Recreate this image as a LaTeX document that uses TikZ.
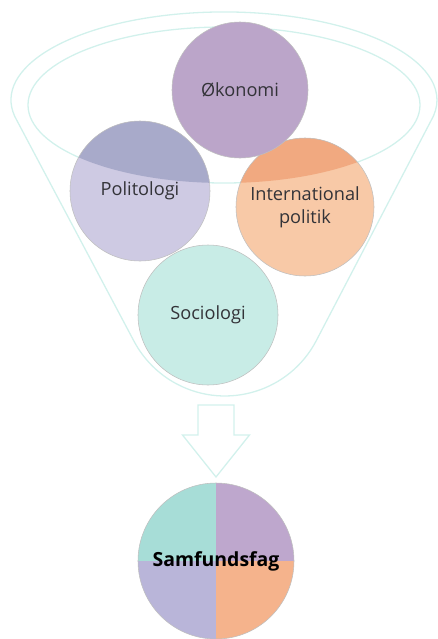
\documentclass[tikz,border=0pt]{standalone}
\usepackage{fontspec}
\setmainfont{Open Sans}

\newlength{\du}
\setlength{\du}{0.55pt}

\definecolor{fagtekst}{rgb}{0.200000, 0.200000, 0.220000}
\definecolor{oekfarve}{rgb}{0.733333, 0.647059, 0.788235}
\definecolor{polfarve}{rgb}{0.807843, 0.792157, 0.890196}
\definecolor{polmoerk}{rgb}{0.658824, 0.666667, 0.792157}
\definecolor{intfarve}{rgb}{0.972549, 0.788235, 0.654902}
\definecolor{intmoerk}{rgb}{0.945098, 0.662745, 0.501961}
\definecolor{socfarve}{rgb}{0.784314, 0.925490, 0.901961}
\definecolor{samfturkis}{rgb}{0.654902, 0.866667, 0.843137}
\definecolor{samflilla}{rgb}{0.745098, 0.654902, 0.803922}
\definecolor{samfblaa}{rgb}{0.725490, 0.709804, 0.850980}
\definecolor{samforange}{rgb}{0.960784, 0.701961, 0.549020}

\tikzset{
  fag/.style={circle, inner sep=0pt, minimum size=#1, align=center,
    text=fagtekst, font=\fontsize{10}{12.6}\selectfont,
    draw=black!25, line width=0.3pt},
  indretint/.style={path picture={
    \fill[#1] (indre) ellipse [x radius=196\du, y radius=78\du];}},
}

\begin{document}
\begin{tikzpicture}
\pgftransformxscale{1.000000}
\pgftransformyscale{-1.000000}
\useasboundingbox (0.000000\du,0.000000\du) rectangle (438.000000\du,639.000000\du);
\coordinate (indre) at (224.000000\du,105.000000\du);
% tragten
\definecolor{dialinecolor}{rgb}{0.823529, 0.945098, 0.925490}
\pgfsetstrokecolor{dialinecolor}
\pgfsetlinewidth{1.300000\du}
\pgfsetdash{}{0pt}
\draw (16.900000\du,120.500000\du) arc[start angle=166.5, end angle=373.5, x radius=213.000000\du, y radius=88.000000\du]
  --(316.100000\du,341.000000\du) arc[start angle=27.8, end angle=152.2, radius=103.000000\du]--cycle;
\draw (indre) ellipse [x radius=196.000000\du, y radius=78.000000\du];
% pilen
\pgfsetmiterjoin
\draw (198.000000\du,405.000000\du)--(234.000000\du,405.000000\du)--(234.000000\du,435.000000\du)--(249.500000\du,435.000000\du)--(216.000000\du,477.000000\du)--(182.500000\du,435.000000\du)--(198.000000\du,435.000000\du)--cycle;
% setfont left to latex
\node[fag=140\du, fill=polfarve, indretint=polmoerk] (politologi) at (140.000000\du,191.000000\du){Politologi};
\node[fag=138\du, fill=intfarve, indretint=intmoerk] (international) at (305.000000\du,207.000000\du){International\\politik};
\node[fag=140\du, fill=socfarve] (sociologi) at (208.000000\du,315.000000\du){Sociologi};
\node[fag=136\du, fill=oekfarve] (oekonomi) at (240.000000\du,90.000000\du){Økonomi};
% setfont left to latex
\node[fag=156\du, text=black, font=\fontsize{10.7}{13}\selectfont\bfseries, path picture={
  \fill[samfturkis] (path picture bounding box.center) rectangle (path picture bounding box.north west);
  \fill[samflilla] (path picture bounding box.center) rectangle (path picture bounding box.north east);
  \fill[samfblaa] (path picture bounding box.center) rectangle (path picture bounding box.south west);
  \fill[samforange] (path picture bounding box.center) rectangle (path picture bounding box.south east);
}] (samfundsfag) at (216.000000\du,561.000000\du){Samfundsfag};
\end{tikzpicture}
\end{document}
